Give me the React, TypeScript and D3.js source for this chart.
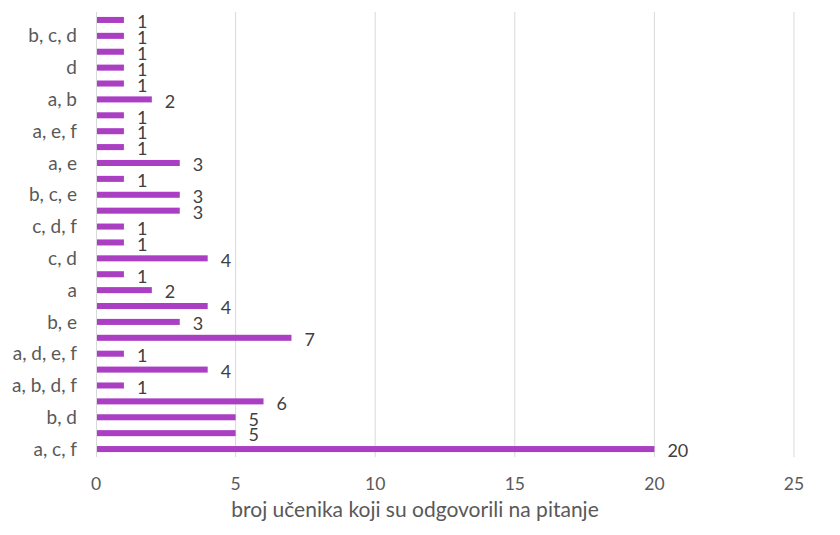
import { useEffect, useRef } from "react";
import * as d3 from "d3";

// categories from bottom to top; only every other label is readable in the source
const categoryLabels = [
  "a, c, f", "", "b, d", "", "a, b, d, f", "", "a, d, e, f", "", "b, e", "",
  "a", "", "c, d", "", "c, d, f", "", "b, c, e", "", "a, e", "",
  "a, e, f", "", "a, b", "", "d", "", "b, c, d", "",
];

const counts = [
  20, 5, 5, 6, 1, 4, 1, 7, 3, 4,
  2, 1, 4, 1, 1, 3, 3, 1, 3, 1,
  1, 1, 2, 1, 1, 1, 1, 1,
];

const xTicks = [0, 5, 10, 15, 20, 25];
const xTitle = "broj učenika koji su odgovorili na pitanje";

export default function App() {
  const svgRef = useRef<SVGSVGElement>(null);
  const width = 840;
  const height = 535;

  useEffect(() => {
    if (!svgRef.current) return;
    const svg = d3.select(svgRef.current);
    svg.selectAll("*").remove();

    const margin = { top: 12, right: 46, bottom: 78, left: 96 };
    const innerWidth = width - margin.left - margin.right;
    const innerHeight = height - margin.top - margin.bottom;
    const font = "Lato, 'Open Sans', sans-serif";

    const g = svg.append("g")
      .attr("transform", `translate(${margin.left},${margin.top})`);

    const x = d3.scaleLinear().domain([0, 25]).range([0, innerWidth]);

    // index 0 is at the bottom
    const idx = counts.map((_, i) => i);
    const y = d3.scaleBand<number>()
      .domain(idx.slice().reverse())
      .range([0, innerHeight])
      .paddingInner(0.62)
      .paddingOuter(0.31);

    // gridlines
    g.selectAll("line.grid")
      .data(xTicks.slice(1))
      .enter()
      .append("line")
      .attr("class", "grid")
      .attr("x1", d => x(d))
      .attr("x2", d => x(d))
      .attr("y1", 0)
      .attr("y2", innerHeight)
      .attr("stroke", "#d9d9d9")
      .attr("stroke-width", 1);

    // left axis line
    g.append("line")
      .attr("x1", 0.5)
      .attr("x2", 0.5)
      .attr("y1", 0)
      .attr("y2", innerHeight)
      .attr("stroke", "#d9d9d9");

    // bars
    g.selectAll("rect.bar")
      .data(idx)
      .enter()
      .append("rect")
      .attr("class", "bar")
      .attr("x", 1)
      .attr("y", d => y(d) as number)
      .attr("width", d => x(counts[d]) - 1)
      .attr("height", y.bandwidth())
      .attr("fill", "#ab3fc4");

    // value labels
    g.selectAll("text.value")
      .data(idx)
      .enter()
      .append("text")
      .attr("class", "value")
      .attr("x", d => x(counts[d]) + 13)
      .attr("y", d => (y(d) as number) + y.bandwidth() / 2 + 2)
      .attr("dy", "0.35em")
      .attr("fill", "#404040")
      .attr("font-family", font)
      .attr("font-size", "18px")
      .text(d => counts[d]);

    // category labels
    g.selectAll("text.cat")
      .data(idx.filter(i => categoryLabels[i] !== ""))
      .enter()
      .append("text")
      .attr("class", "cat")
      .attr("x", -19)
      .attr("y", d => (y(d) as number) + y.bandwidth() / 2)
      .attr("dy", "0.35em")
      .attr("text-anchor", "end")
      .attr("fill", "#595959")
      .attr("font-family", font)
      .attr("font-size", "19px")
      .text(d => categoryLabels[d]);

    // x tick labels
    g.selectAll("text.tick")
      .data(xTicks)
      .enter()
      .append("text")
      .attr("class", "tick")
      .attr("x", d => x(d))
      .attr("y", innerHeight + 27)
      .attr("dy", "0.35em")
      .attr("text-anchor", "middle")
      .attr("fill", "#595959")
      .attr("font-family", font)
      .attr("font-size", "17.5px")
      .text(d => d);

    // x axis title
    svg.append("text")
      .attr("x", 415)
      .attr("y", 510)
      .attr("dy", "0.35em")
      .attr("text-anchor", "middle")
      .attr("fill", "#595959")
      .attr("font-family", font)
      .attr("font-size", "21px")
      .text(xTitle);
  }, []);

  return (
    <div style={{ position: "absolute", left: 0, top: 0, background: "#fff" }}>
      <svg ref={svgRef} width={width} height={height} viewBox={`0 0 ${width} ${height}`} />
    </div>
  );
}
